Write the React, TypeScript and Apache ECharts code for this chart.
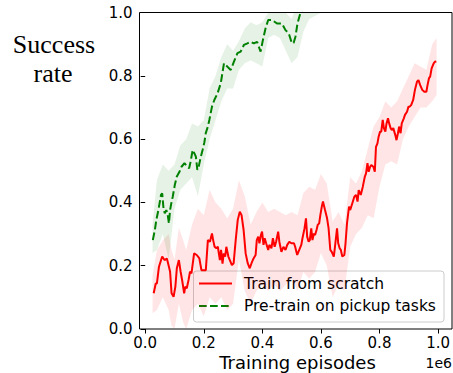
import React, { useEffect, useRef } from "react";
import * as echarts from "echarts";

// ---- data ----
const redX = [0.029,0.036,0.040,0.047,0.058,0.066,0.074,0.081,0.085,0.090,0.097,0.103,0.108,0.115,0.121,0.126,0.133,0.137,0.142,0.148,0.153,0.158,0.167,0.176,0.185,0.192,0.207,0.214,0.221,0.228,0.232,0.237,0.243,0.248,0.255,0.259,0.264,0.268,0.273,0.277,0.284,
  0.296,0.302,0.309,0.316,0.323,0.329,0.336,0.343,0.350,0.357,0.363,0.370,0.377,0.381,0.386,0.390,0.395,0.399,0.404,0.408,0.413,0.420,0.424,0.431,0.436,0.442,0.447,0.454,0.458,0.465,0.472,0.479,0.485,0.492,0.499,0.508,0.512,0.519,0.526,0.533,0.537,0.544,0.549,0.553,0.558,0.562,0.567,0.571,0.576,0.580,0.585,0.589,0.594,0.598,0.603,0.607,0.614,0.621,
  0.626,0.632,0.637,0.644,0.648,0.655,0.659,0.664,0.668,0.673,0.680,0.684,0.689,0.696,0.700,0.707,0.714,0.720,0.725,0.729,0.736,0.743,0.750,0.754,0.759,0.763,0.768,0.772,0.779,0.784,0.788,0.793,0.797,0.802,0.806,0.811,0.815,0.820,0.824,0.829,0.833,0.838,0.842,0.847,0.854,0.858,0.863,0.867,0.872,0.876,0.883,0.887,0.894,0.899,0.903,0.908,0.915,0.921,0.928,0.933,0.939,0.946,0.953,0.960,0.964,0.969,0.973,0.978,0.985,0.989,0.994];
const redY = [0.113,0.144,0.144,0.197,0.229,0.218,0.223,0.197,0.181,0.113,0.102,0.134,0.192,0.218,0.181,0.155,0.113,0.134,0.129,0.155,0.181,0.176,0.239,0.234,0.223,0.186,0.186,0.281,0.276,0.302,0.281,0.260,0.255,0.260,0.218,0.250,0.207,0.239,0.229,0.260,0.229,
  0.202,0.208,0.281,0.345,0.371,0.360,0.313,0.239,0.208,0.192,0.208,0.223,0.234,0.281,0.292,0.271,0.297,0.308,0.266,0.287,0.271,0.250,0.266,0.255,0.287,0.260,0.276,0.308,0.276,0.244,0.260,0.250,0.266,0.276,0.271,0.271,0.260,0.234,0.250,0.266,0.287,0.318,0.350,0.292,0.276,0.281,0.318,0.281,0.302,0.297,0.313,0.329,0.334,0.360,0.387,0.403,0.376,0.350,
  0.320,0.250,0.244,0.229,0.260,0.318,0.271,0.255,0.250,0.229,0.234,0.271,0.334,0.387,0.376,0.397,0.418,0.424,0.403,0.439,0.424,0.450,0.482,0.492,0.524,0.497,0.513,0.518,0.513,0.497,0.576,0.587,0.608,0.624,0.624,0.661,0.635,0.624,0.650,0.666,0.650,0.635,0.629,0.635,0.613,0.597,0.619,0.640,0.619,0.650,0.666,0.677,0.687,0.703,0.703,0.708,0.724,0.756,0.782,0.787,0.771,0.756,0.750,0.750,0.771,0.793,0.798,0.824,0.840,0.845,0.846];

const redBandX    = [0.025,0.04,0.06,0.08,0.09,0.10,0.115,0.13,0.14,0.16,0.18,0.20,0.22,0.24,0.26,0.28,0.30,0.32,0.34,0.36,0.38,0.40,0.42,0.44,0.46,0.48,0.50,0.52,0.54,0.56,0.58,0.60,0.62,0.64,0.66,0.68,0.70,0.72,0.74,0.76,0.78,0.80,0.82,0.84,0.86,0.88,0.90,0.92,0.94,0.96,0.98,0.995];
const redBandLow  = [0.05,0.06,0.10,0.06,0.01,0.00,0.08,0.02,0.00,0.06,0.08,0.04,0.10,0.08,0.10,0.06,0.08,0.22,0.12,0.08,0.12,0.14,0.12,0.14,0.12,0.14,0.16,0.12,0.18,0.16,0.18,0.24,0.20,0.10,0.14,0.12,0.26,0.30,0.32,0.36,0.35,0.45,0.52,0.53,0.52,0.60,0.64,0.67,0.70,0.70,0.72,0.74];
const redBandHigh = [0.17,0.25,0.28,0.30,0.25,0.22,0.32,0.28,0.25,0.33,0.38,0.36,0.44,0.40,0.38,0.35,0.38,0.47,0.42,0.33,0.37,0.40,0.37,0.38,0.37,0.36,0.37,0.36,0.43,0.45,0.44,0.49,0.46,0.34,0.37,0.33,0.48,0.46,0.50,0.57,0.64,0.67,0.72,0.70,0.72,0.76,0.80,0.84,0.83,0.82,0.90,0.92];

const greenX = [0.026,0.033,0.038,0.045,0.049,0.054,0.058,0.063,0.067,0.072,0.076,0.081,0.085,0.090,0.094,0.101,0.108,0.117,0.124,0.134,0.145,0.150,0.155,0.162,0.168,0.173,0.178,0.183,0.190,0.196,0.202,0.207,0.214,0.219,0.228,0.236,0.247,0.258,0.269,0.281,0.292,0.303,0.315,0.326,0.337,0.349,0.360,0.371,0.382,0.394,0.402,0.411,0.420,0.433,0.450,0.467,0.479,0.490,0.501,0.507,0.513,0.520,0.528,0.537,0.550,0.570,0.600];
const greenY = [0.281,0.313,0.345,0.376,0.397,0.424,0.429,0.376,0.366,0.376,0.366,0.334,0.376,0.402,0.418,0.455,0.482,0.497,0.513,0.524,0.513,0.508,0.529,0.566,0.555,0.545,0.503,0.515,0.545,0.566,0.590,0.620,0.640,0.661,0.703,0.724,0.745,0.777,0.840,0.829,0.819,0.845,0.872,0.877,0.898,0.903,0.908,0.903,0.908,0.877,0.914,0.951,0.977,0.977,0.966,0.966,0.945,0.935,0.903,0.905,0.924,0.966,0.993,1.010,1.030,1.050,1.060];

const greenBandX    = [0.025,0.04,0.06,0.08,0.10,0.12,0.14,0.16,0.18,0.20,0.22,0.24,0.26,0.28,0.30,0.32,0.34,0.36,0.38,0.40,0.42,0.44,0.46,0.48,0.50,0.52,0.54,0.56,0.60];
const greenBandLow  = [0.24,0.25,0.30,0.22,0.38,0.44,0.46,0.48,0.42,0.52,0.60,0.66,0.72,0.76,0.76,0.82,0.84,0.85,0.84,0.83,0.92,0.93,0.92,0.88,0.84,0.86,0.94,0.98,1.00];
const greenBandHigh = [0.33,0.47,0.52,0.50,0.52,0.58,0.60,0.65,0.64,0.66,0.76,0.80,0.86,0.90,0.88,0.91,0.95,0.97,0.96,0.97,1.00,1.02,1.02,1.00,0.98,1.03,1.06,1.10,1.10];

const xTicks = [0, 0.2, 0.4, 0.6, 0.8, 1.0];
const yTicks = [0, 0.2, 0.4, 0.6, 0.8, 1.0];

const seriesNames = ["Train from scratch", "Pre-train on pickup tasks"];

const SANS = "DejaVu Sans";
const SERIF = "Liberation Serif";

function bandSeries(xs: number[], lo: number[], hi: number[], color: string) {
  return {
    type: "custom",
    clip: true,
    silent: true,
    z: 1,
    data: xs.map((x, i) => [x, lo[i], hi[i]]),
    encode: { x: 0, y: [1, 2] },
    renderItem: (params: any, api: any) => {
      if (params.dataIndex !== 0) return null;
      const top = xs.map((x, i) => api.coord([x, hi[i]]));
      const bottom = xs.map((x, i) => api.coord([x, lo[i]])).reverse();
      return {
        type: "polygon",
        shape: { points: top.concat(bottom) },
        style: { fill: color, stroke: "none" },
      };
    },
  };
}

export default function App() {
  const ref = useRef<HTMLDivElement>(null);
  useEffect(() => {
    if (!ref.current) return;
    const chart = echarts.init(ref.current, undefined, { renderer: "svg" });
    const gl = 145.2, gr = 439.7, gt = 12.7, gb = 329;
    const option: any = {
      animation: false,
      backgroundColor: "#ffffff",
      grid: { left: gl, right: 453 - gr, top: gt, bottom: 373 - gb, containLabel: false },
      xAxis: {
        type: "value",
        min: xTicks[0],
        max: xTicks[xTicks.length - 1],
        interval: 0.2,
        axisLine: { show: false },
        axisTick: { show: true, inside: false, length: 4.5, lineStyle: { color: "#000", width: 1 } },
        axisLabel: { color: "#000", fontFamily: SANS, fontSize: 15, margin: 6, lineHeight: 15, formatter: (v: number) => v.toFixed(1) },
        splitLine: { show: false },
      },
      yAxis: {
        type: "value",
        min: yTicks[0],
        max: yTicks[yTicks.length - 1],
        interval: 0.2,
        offset: gl - 139.5,
        axisLine: { show: false },
        axisTick: { show: true, inside: false, length: 4.5, lineStyle: { color: "#000", width: 1 } },
        axisLabel: { color: "#000", fontFamily: SANS, fontSize: 15, margin: 7, formatter: (v: number) => v.toFixed(1) },
        splitLine: { show: false },
      },
      series: [
        bandSeries(redBandX, redBandLow, redBandHigh, "rgba(255,0,0,0.1)"),
        bandSeries(greenBandX, greenBandLow, greenBandHigh, "rgba(0,128,0,0.1)"),
        {
          name: seriesNames[0],
          type: "line",
          data: redX.map((x, i) => [x, redY[i]]),
          showSymbol: false,
          symbol: "none",
          clip: true,
          z: 3,
          lineStyle: { color: "#ff0000", width: 2 },
        },
        {
          name: seriesNames[1],
          type: "line",
          data: greenX.map((x, i) => [x, greenY[i]]),
          showSymbol: false,
          symbol: "none",
          clip: true,
          z: 3,
          lineStyle: { color: "#008000", width: 2, type: [7.7, 3.3] },
        },
      ],
      graphic: [
        {
          type: "rect",
          z: 50,
          silent: true,
          shape: { x: 139.5, y: 12.5, width: 312.5, height: 316.5 },
          style: { fill: "none", stroke: "#000", lineWidth: 1 },
        },
        {
          type: "group",
          z: 100,
          children: [
            {
              type: "rect",
              shape: { x: 193.5, y: 271, width: 250.5, height: 51, r: 3 },
              style: { fill: "rgba(255,255,255,0.8)", stroke: "#cccccc", lineWidth: 1 },
            },
            {
              type: "line",
              shape: { x1: 199, y1: 283.5, x2: 232, y2: 283.5 },
              style: { stroke: "#ff0000", lineWidth: 2 },
            },
            {
              type: "line",
              shape: { x1: 199, y1: 306, x2: 232, y2: 306 },
              style: { stroke: "#008000", lineWidth: 2, lineDash: [7.7, 3.3] },
            },
            {
              type: "text",
              x: 244,
              y: 283.5,
              style: { text: seriesNames[0], fill: "#000", font: `15.5px '${SANS}'`, textAlign: "left", verticalAlign: "middle" },
            },
            {
              type: "text",
              x: 244,
              y: 306,
              style: { text: seriesNames[1], fill: "#000", font: `15.5px '${SANS}'`, textAlign: "left", verticalAlign: "middle" },
            },
          ],
        },
        {
          type: "text",
          x: 54,
          y: 44.5,
          style: { text: "Success", fill: "#000", font: `26px '${SERIF}'`, textAlign: "center", verticalAlign: "middle" },
        },
        {
          type: "text",
          x: 53,
          y: 73,
          style: { text: "rate", fill: "#000", font: `26px '${SERIF}'`, textAlign: "center", verticalAlign: "middle" },
        },
        {
          type: "text",
          x: 297.5,
          y: 362,
          style: { text: "Training episodes", fill: "#000", font: `18px '${SANS}'`, textAlign: "center", verticalAlign: "middle" },
        },
        {
          type: "text",
          x: 452,
          y: 362.5,
          style: { text: "1e6", fill: "#000", font: `14px '${SANS}'`, textAlign: "right", verticalAlign: "middle" },
        },
      ],
    };
    chart.setOption(option);
    return () => chart.dispose();
  }, []);
  return <div ref={ref} style={{ position: "fixed", left: 0, top: 0, width: 453, height: 373 }} />;
}
